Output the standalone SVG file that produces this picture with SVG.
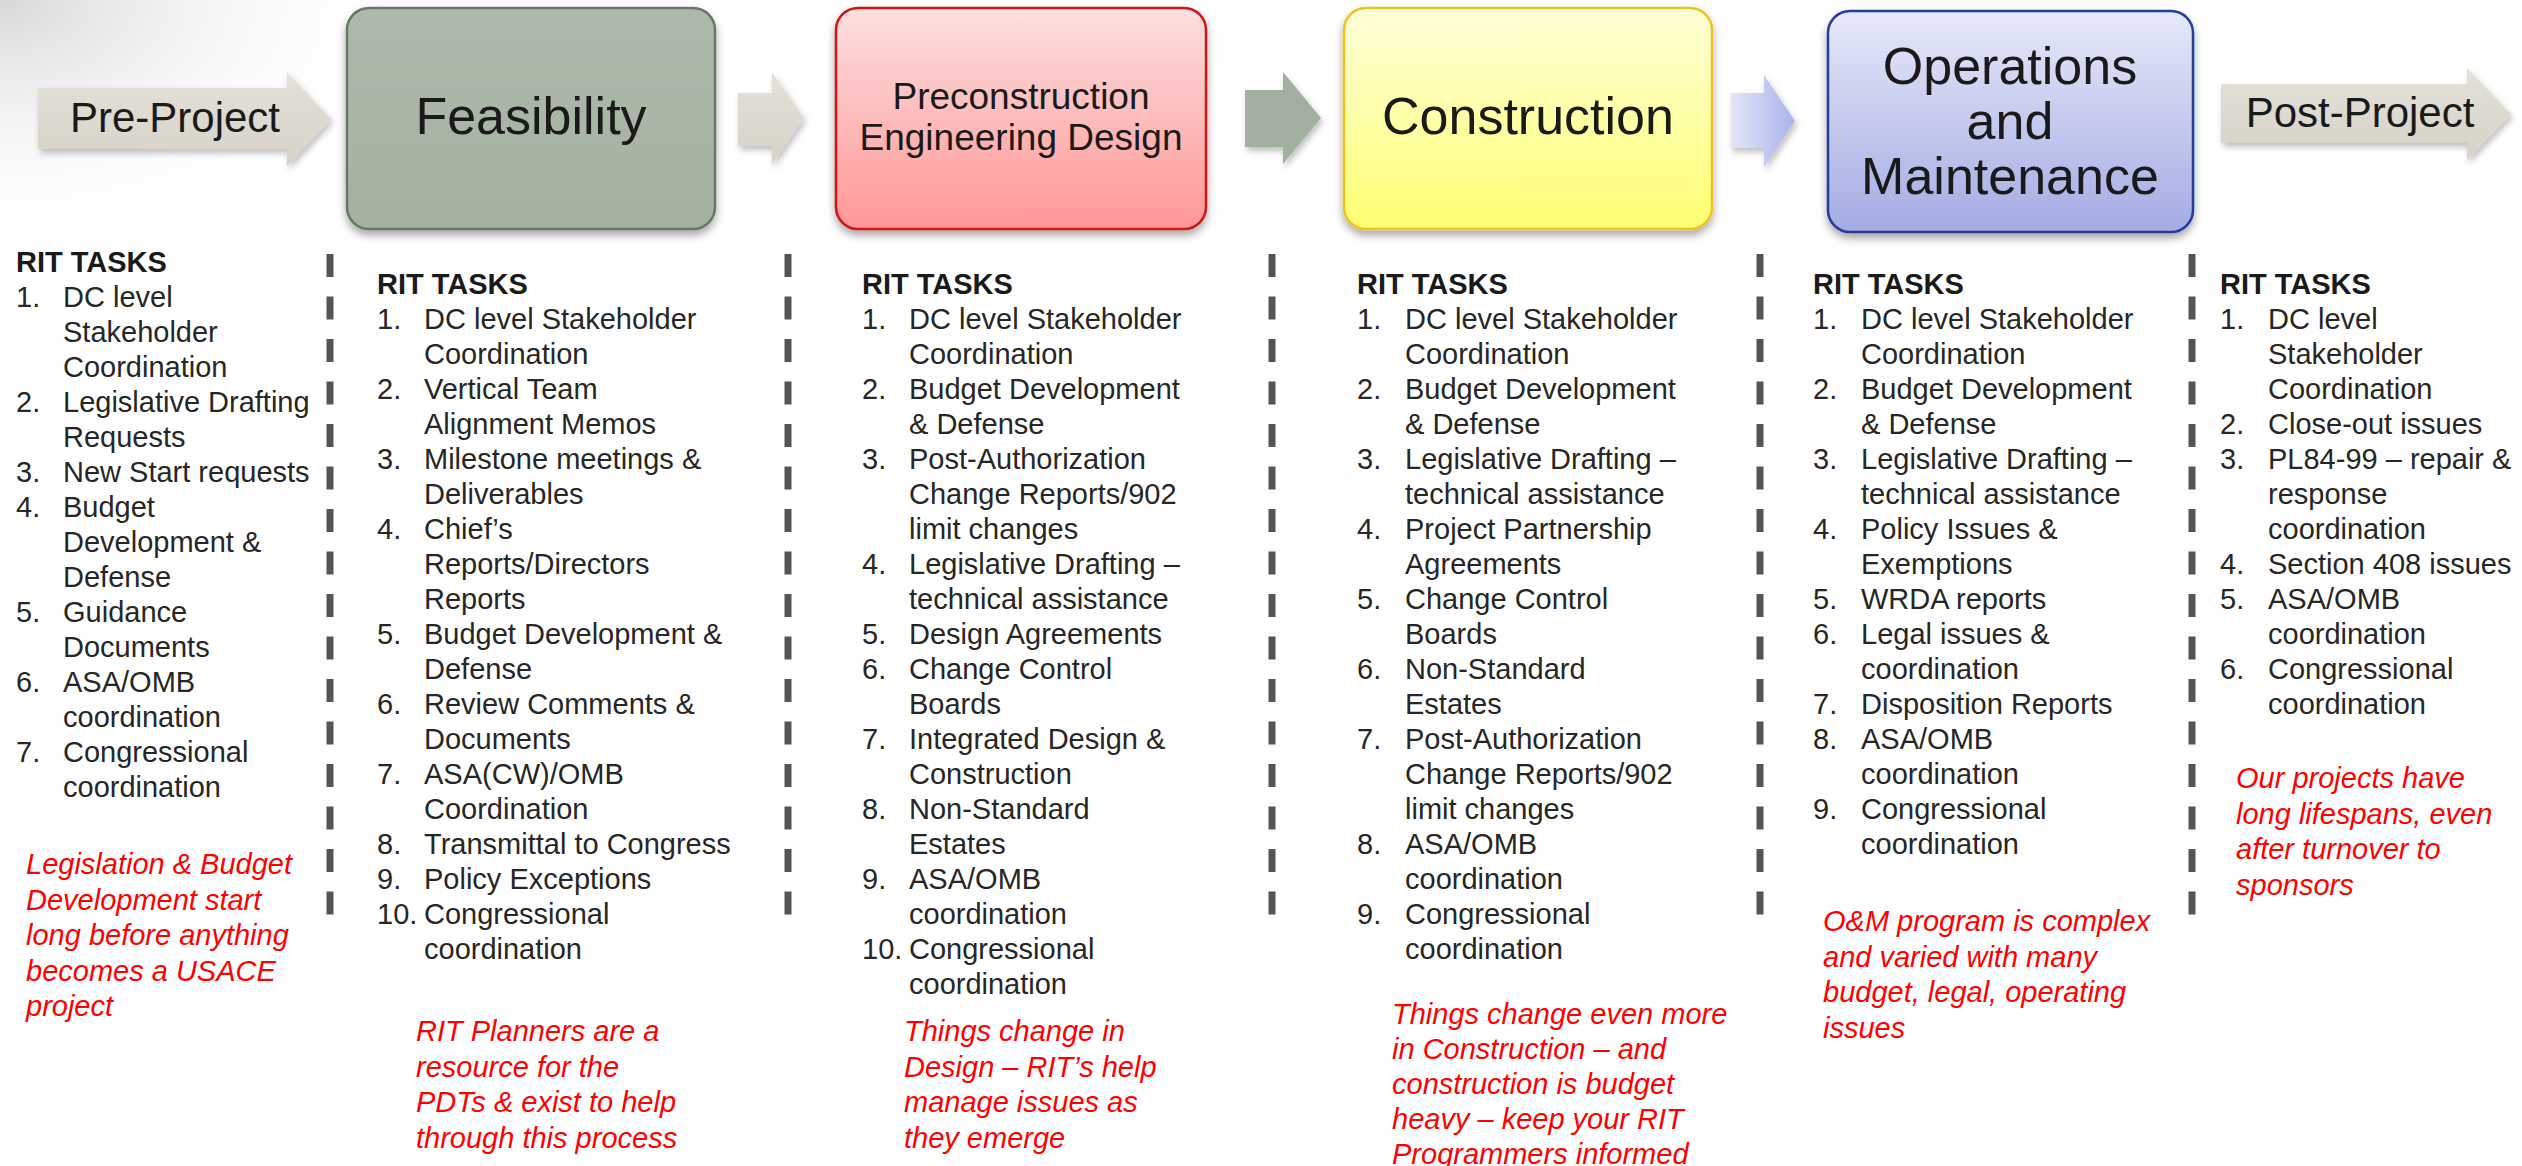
<svg xmlns="http://www.w3.org/2000/svg" width="2522" height="1166" viewBox="0 0 2522 1166">
<style>
.t{font-family:"Liberation Sans",Arial,sans-serif;font-size:29px;fill:#262626}
.h{font-family:"Liberation Sans",Arial,sans-serif;font-size:29px;font-weight:bold;fill:#1a1a1a}
.r{font-family:"Liberation Sans",Arial,sans-serif;font-size:29px;font-style:italic;fill:#ff0000}
.bt{font-family:"Liberation Sans",Arial,sans-serif;fill:#1a1a1a;text-anchor:middle}
.dash{stroke:#555;stroke-width:7;stroke-dasharray:23 19.5;fill:none}
</style>
<defs>
<filter id="sh" x="-10%" y="-10%" width="120%" height="130%"><feDropShadow dx="0" dy="5" stdDeviation="4" flood-color="#000" flood-opacity="0.35"/></filter>
<filter id="ash" x="-10%" y="-20%" width="125%" height="150%"><feDropShadow dx="2" dy="4" stdDeviation="3" flood-color="#000" flood-opacity="0.25"/></filter>
<radialGradient id="bg" cx="0" cy="0" r="1" gradientUnits="userSpaceOnUse" gradientTransform="translate(0,0) scale(420,260)"><stop offset="0" stop-color="#d8d8d8"/><stop offset="1" stop-color="#fff" stop-opacity="0"/></radialGradient>
<linearGradient id="gFeas" x1="0" y1="0" x2="0" y2="1"><stop offset="0" stop-color="#adb9aa"/><stop offset="1" stop-color="#a5b2a2"/></linearGradient>
<linearGradient id="gPed" x1="0" y1="0" x2="0" y2="1"><stop offset="0" stop-color="#fde0e0"/><stop offset="1" stop-color="#ff9696"/></linearGradient>
<linearGradient id="gCon" x1="0" y1="0" x2="0" y2="1"><stop offset="0" stop-color="#ffffd9"/><stop offset="1" stop-color="#ffff72"/></linearGradient>
<linearGradient id="gOm" x1="0" y1="0" x2="0" y2="1"><stop offset="0" stop-color="#e6e9f9"/><stop offset="1" stop-color="#a4abe3"/></linearGradient>
<linearGradient id="gBeige" x1="0" y1="0" x2="0" y2="1"><stop offset="0" stop-color="#e4e1d9"/><stop offset="1" stop-color="#d6d2c8"/></linearGradient>
<linearGradient id="gBlueA" x1="0" y1="0" x2="1" y2="0"><stop offset="0" stop-color="#e2e6f8"/><stop offset="1" stop-color="#a9b3ea"/></linearGradient>
</defs>
<rect width="2522" height="1166" fill="#fff"/>
<rect width="2522" height="1166" fill="url(#bg)"/>

<g id="connectors">
<path id="arrow-pre" filter="url(#ash)" fill="url(#gBeige)" d="M38,88 H287 V72 L331,119 L287,166 V149 H38 Z"/>
<path id="arrow-feas-ped" filter="url(#ash)" fill="url(#gBeige)" d="M738,93 H772 V72 L804,118 L772,164 V146 H738 Z"/>
<path id="arrow-ped-con" filter="url(#ash)" fill="#a3afa0" d="M1245,90 H1283 V72 L1321,118 L1283,164 V147 H1245 Z"/>
<path id="arrow-con-om" filter="url(#ash)" fill="url(#gBlueA)" d="M1731,93 H1764 V75 L1795,121 L1764,167 V148 H1731 Z"/>
<path id="arrow-post" filter="url(#ash)" fill="url(#gBeige)" d="M2221,84 H2467 V68 L2511,114 L2467,160 V143 H2221 Z"/>
<line class="dash" x1="330" y1="254" x2="330" y2="920"/>
<line class="dash" x1="788" y1="254" x2="788" y2="920"/>
<line class="dash" x1="1272" y1="254" x2="1272" y2="920"/>
<line class="dash" x1="1760" y1="254" x2="1760" y2="920"/>
<line class="dash" x1="2192" y1="254" x2="2192" y2="920"/>
</g>

<g id="pre-project">
<text class="bt" x="175" y="132" font-size="42">Pre-Project</text>
</g>
<g id="feasibility">
<rect x="347" y="8" width="368" height="221" rx="22" fill="url(#gFeas)" stroke="#6a7667" stroke-width="2.5" filter="url(#sh)"/>
<text class="bt" x="531" y="134" font-size="52">Feasibility</text>
</g>
<g id="ped">
<rect x="836" y="8" width="370" height="221" rx="22" fill="url(#gPed)" stroke="#d01515" stroke-width="2.5" filter="url(#sh)"/>
<text class="bt" x="1021" y="109" font-size="37">Preconstruction</text>
<text class="bt" x="1021" y="150" font-size="37">Engineering Design</text>
</g>
<g id="construction">
<rect x="1344" y="8" width="368" height="221" rx="22" fill="url(#gCon)" stroke="#f2c21a" stroke-width="2.5" filter="url(#sh)"/>
<text class="bt" x="1528" y="134" font-size="52">Construction</text>
</g>
<g id="om">
<rect x="1828" y="11" width="365" height="221" rx="22" fill="url(#gOm)" stroke="#203c9e" stroke-width="2.5" filter="url(#sh)"/>
<text class="bt" x="2010" y="84" font-size="52">Operations</text>
<text class="bt" x="2010" y="139" font-size="52">and</text>
<text class="bt" x="2010" y="194" font-size="52">Maintenance</text>
</g>
<g id="post-project">
<text class="bt" x="2360" y="127" font-size="42">Post-Project</text>
</g>

<g id="tasks-pre">
<text class="h" x="16" y="272">RIT TASKS</text>
<text class="t">
<tspan x="16" y="307">1.</tspan><tspan x="63">DC level</tspan>
<tspan x="63" y="342">Stakeholder</tspan>
<tspan x="63" y="377">Coordination</tspan>
<tspan x="16" y="412">2.</tspan><tspan x="63">Legislative Drafting</tspan>
<tspan x="63" y="447">Requests</tspan>
<tspan x="16" y="482">3.</tspan><tspan x="63">New Start requests</tspan>
<tspan x="16" y="517">4.</tspan><tspan x="63">Budget</tspan>
<tspan x="63" y="552">Development &amp;</tspan>
<tspan x="63" y="587">Defense</tspan>
<tspan x="16" y="622">5.</tspan><tspan x="63">Guidance</tspan>
<tspan x="63" y="657">Documents</tspan>
<tspan x="16" y="692">6.</tspan><tspan x="63">ASA/OMB</tspan>
<tspan x="63" y="727">coordination</tspan>
<tspan x="16" y="762">7.</tspan><tspan x="63">Congressional</tspan>
<tspan x="63" y="797">coordination</tspan>
</text>
<text class="r">
<tspan x="26" y="874">Legislation &amp; Budget</tspan>
<tspan x="26" y="909.5">Development start</tspan>
<tspan x="26" y="945">long before anything</tspan>
<tspan x="26" y="980.5">becomes a USACE</tspan>
<tspan x="26" y="1016">project</tspan>
</text>
</g>

<g id="tasks-feasibility">
<text class="h" x="377" y="293.5">RIT TASKS</text>
<text class="t">
<tspan x="377" y="328.5">1.</tspan><tspan x="424">DC level Stakeholder</tspan>
<tspan x="424" y="363.5">Coordination</tspan>
<tspan x="377" y="398.5">2.</tspan><tspan x="424">Vertical Team</tspan>
<tspan x="424" y="433.5">Alignment Memos</tspan>
<tspan x="377" y="468.5">3.</tspan><tspan x="424">Milestone meetings &amp;</tspan>
<tspan x="424" y="503.5">Deliverables</tspan>
<tspan x="377" y="538.5">4.</tspan><tspan x="424">Chief’s</tspan>
<tspan x="424" y="573.5">Reports/Directors</tspan>
<tspan x="424" y="608.5">Reports</tspan>
<tspan x="377" y="643.5">5.</tspan><tspan x="424">Budget Development &amp;</tspan>
<tspan x="424" y="678.5">Defense</tspan>
<tspan x="377" y="713.5">6.</tspan><tspan x="424">Review Comments &amp;</tspan>
<tspan x="424" y="748.5">Documents</tspan>
<tspan x="377" y="783.5">7.</tspan><tspan x="424">ASA(CW)/OMB</tspan>
<tspan x="424" y="818.5">Coordination</tspan>
<tspan x="377" y="853.5">8.</tspan><tspan x="424">Transmittal to Congress</tspan>
<tspan x="377" y="888.5">9.</tspan><tspan x="424">Policy Exceptions</tspan>
<tspan x="377" y="923.5">10.</tspan><tspan x="424">Congressional</tspan>
<tspan x="424" y="958.5">coordination</tspan>
</text>
<text class="r">
<tspan x="416" y="1041">RIT Planners are a</tspan>
<tspan x="416" y="1076.5">resource for the</tspan>
<tspan x="416" y="1112">PDTs &amp; exist to help</tspan>
<tspan x="416" y="1147.5">through this process</tspan>
</text>
</g>

<g id="tasks-ped">
<text class="h" x="862" y="293.5">RIT TASKS</text>
<text class="t">
<tspan x="862" y="328.5">1.</tspan><tspan x="909">DC level Stakeholder</tspan>
<tspan x="909" y="363.5">Coordination</tspan>
<tspan x="862" y="398.5">2.</tspan><tspan x="909">Budget Development</tspan>
<tspan x="909" y="433.5">&amp; Defense</tspan>
<tspan x="862" y="468.5">3.</tspan><tspan x="909">Post-Authorization</tspan>
<tspan x="909" y="503.5">Change Reports/902</tspan>
<tspan x="909" y="538.5">limit changes</tspan>
<tspan x="862" y="573.5">4.</tspan><tspan x="909">Legislative Drafting –</tspan>
<tspan x="909" y="608.5">technical assistance</tspan>
<tspan x="862" y="643.5">5.</tspan><tspan x="909">Design Agreements</tspan>
<tspan x="862" y="678.5">6.</tspan><tspan x="909">Change Control</tspan>
<tspan x="909" y="713.5">Boards</tspan>
<tspan x="862" y="748.5">7.</tspan><tspan x="909">Integrated Design &amp;</tspan>
<tspan x="909" y="783.5">Construction</tspan>
<tspan x="862" y="818.5">8.</tspan><tspan x="909">Non-Standard</tspan>
<tspan x="909" y="853.5">Estates</tspan>
<tspan x="862" y="888.5">9.</tspan><tspan x="909">ASA/OMB</tspan>
<tspan x="909" y="923.5">coordination</tspan>
<tspan x="862" y="958.5">10.</tspan><tspan x="909">Congressional</tspan>
<tspan x="909" y="993.5">coordination</tspan>
</text>
<text class="r">
<tspan x="904" y="1041">Things change in</tspan>
<tspan x="904" y="1076.5">Design – RIT’s help</tspan>
<tspan x="904" y="1112">manage issues as</tspan>
<tspan x="904" y="1147.5">they emerge</tspan>
</text>
</g>

<g id="tasks-construction">
<text class="h" x="1357" y="293.5">RIT TASKS</text>
<text class="t">
<tspan x="1357" y="328.5">1.</tspan><tspan x="1405">DC level Stakeholder</tspan>
<tspan x="1405" y="363.5">Coordination</tspan>
<tspan x="1357" y="398.5">2.</tspan><tspan x="1405">Budget Development</tspan>
<tspan x="1405" y="433.5">&amp; Defense</tspan>
<tspan x="1357" y="468.5">3.</tspan><tspan x="1405">Legislative Drafting –</tspan>
<tspan x="1405" y="503.5">technical assistance</tspan>
<tspan x="1357" y="538.5">4.</tspan><tspan x="1405">Project Partnership</tspan>
<tspan x="1405" y="573.5">Agreements</tspan>
<tspan x="1357" y="608.5">5.</tspan><tspan x="1405">Change Control</tspan>
<tspan x="1405" y="643.5">Boards</tspan>
<tspan x="1357" y="678.5">6.</tspan><tspan x="1405">Non-Standard</tspan>
<tspan x="1405" y="713.5">Estates</tspan>
<tspan x="1357" y="748.5">7.</tspan><tspan x="1405">Post-Authorization</tspan>
<tspan x="1405" y="783.5">Change Reports/902</tspan>
<tspan x="1405" y="818.5">limit changes</tspan>
<tspan x="1357" y="853.5">8.</tspan><tspan x="1405">ASA/OMB</tspan>
<tspan x="1405" y="888.5">coordination</tspan>
<tspan x="1357" y="923.5">9.</tspan><tspan x="1405">Congressional</tspan>
<tspan x="1405" y="958.5">coordination</tspan>
</text>
<text class="r">
<tspan x="1392" y="1024">Things change even more</tspan>
<tspan x="1392" y="1059">in Construction – and</tspan>
<tspan x="1392" y="1094">construction is budget</tspan>
<tspan x="1392" y="1129">heavy – keep your RIT</tspan>
<tspan x="1392" y="1164">Programmers informed</tspan>
</text>
</g>

<g id="tasks-om">
<text class="h" x="1813" y="293.5">RIT TASKS</text>
<text class="t">
<tspan x="1813" y="328.5">1.</tspan><tspan x="1861">DC level Stakeholder</tspan>
<tspan x="1861" y="363.5">Coordination</tspan>
<tspan x="1813" y="398.5">2.</tspan><tspan x="1861">Budget Development</tspan>
<tspan x="1861" y="433.5">&amp; Defense</tspan>
<tspan x="1813" y="468.5">3.</tspan><tspan x="1861">Legislative Drafting –</tspan>
<tspan x="1861" y="503.5">technical assistance</tspan>
<tspan x="1813" y="538.5">4.</tspan><tspan x="1861">Policy Issues &amp;</tspan>
<tspan x="1861" y="573.5">Exemptions</tspan>
<tspan x="1813" y="608.5">5.</tspan><tspan x="1861">WRDA reports</tspan>
<tspan x="1813" y="643.5">6.</tspan><tspan x="1861">Legal issues &amp;</tspan>
<tspan x="1861" y="678.5">coordination</tspan>
<tspan x="1813" y="713.5">7.</tspan><tspan x="1861">Disposition Reports</tspan>
<tspan x="1813" y="748.5">8.</tspan><tspan x="1861">ASA/OMB</tspan>
<tspan x="1861" y="783.5">coordination</tspan>
<tspan x="1813" y="818.5">9.</tspan><tspan x="1861">Congressional</tspan>
<tspan x="1861" y="853.5">coordination</tspan>
</text>
<text class="r">
<tspan x="1823" y="931">O&amp;M program is complex</tspan>
<tspan x="1823" y="966.5">and varied with many</tspan>
<tspan x="1823" y="1002">budget, legal, operating</tspan>
<tspan x="1823" y="1037.5">issues</tspan>
</text>
</g>

<g id="tasks-post">
<text class="h" x="2220" y="293.5">RIT TASKS</text>
<text class="t">
<tspan x="2220" y="328.5">1.</tspan><tspan x="2268">DC level</tspan>
<tspan x="2268" y="363.5">Stakeholder</tspan>
<tspan x="2268" y="398.5">Coordination</tspan>
<tspan x="2220" y="433.5">2.</tspan><tspan x="2268">Close-out issues</tspan>
<tspan x="2220" y="468.5">3.</tspan><tspan x="2268">PL84-99 – repair &amp;</tspan>
<tspan x="2268" y="503.5">response</tspan>
<tspan x="2268" y="538.5">coordination</tspan>
<tspan x="2220" y="573.5">4.</tspan><tspan x="2268">Section 408 issues</tspan>
<tspan x="2220" y="608.5">5.</tspan><tspan x="2268">ASA/OMB</tspan>
<tspan x="2268" y="643.5">coordination</tspan>
<tspan x="2220" y="678.5">6.</tspan><tspan x="2268">Congressional</tspan>
<tspan x="2268" y="713.5">coordination</tspan>
</text>
<text class="r">
<tspan x="2236" y="788">Our projects have</tspan>
<tspan x="2236" y="823.5">long lifespans, even</tspan>
<tspan x="2236" y="859">after turnover to</tspan>
<tspan x="2236" y="894.5">sponsors</tspan>
</text>
</g>
</svg>
